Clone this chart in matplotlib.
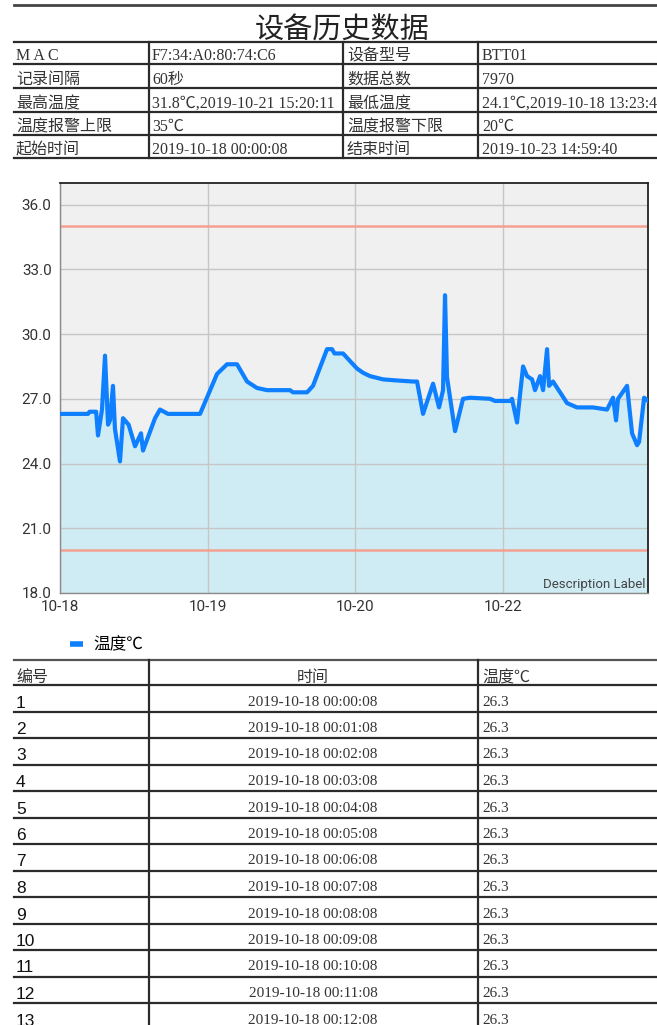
#!/usr/bin/env python3
"""
plot.py

Device history report: info table, temperature chart, first data rows.
"""

import matplotlib
matplotlib.use("Agg")
import matplotlib.pyplot as plt
from matplotlib.lines import Line2D

# ---- data ----
title = "设备历史数据"
info_rows = [
    ["M A C", "F7:34:A0:80:74:C6", "设备型号", "BTT01"],
    ["记录间隔", "60秒", "数据总数", "7970"],
    ["最高温度", "31.8℃,2019-10-21 15:20:11", "最低温度", "24.1℃,2019-10-18 13:23:46"],
    ["温度报警上限", "35℃", "温度报警下限", "20℃"],
    ["起始时间", "2019-10-18 00:00:08", "结束时间", "2019-10-23 14:59:40"],
]

# sample index -> temperature
sample_idx = [0, 380, 400, 490, 515, 569, 610, 651, 678, 718, 745, 813, 854, 930,
              1017, 1098, 1125, 1288, 1355, 1464, 1898, 2128, 2264, 2399, 2535,
              2670, 2806, 3117, 3158, 3348, 3429, 3619, 3687, 3720, 3836, 3930,
              4026, 4110, 4202, 4378, 4560, 4785, 4839, 4920, 5056, 5137, 5191,
              5218, 5245, 5354, 5462, 5557, 5828, 5896, 6099, 6126, 6194, 6276,
              6330, 6398, 6438, 6506, 6547, 6601, 6628, 6682, 6777, 6872, 7007,
              7224, 7414, 7495, 7536, 7563, 7685, 7753, 7821, 7848, 7916, 7969]
temperature = [26.3, 26.3, 26.4, 26.4, 25.3, 26.5, 29.0, 25.8, 26.0, 27.6, 25.6,
               24.1, 26.1, 25.8, 24.8, 25.4, 24.6, 26.1, 26.5, 26.3, 26.3, 28.15,
               28.6, 28.6, 27.8, 27.5, 27.4, 27.4, 27.3, 27.3, 27.6, 29.3, 29.3,
               29.1, 29.1, 28.75, 28.4, 28.2, 28.05, 27.9, 27.85, 27.8, 27.8, 26.3,
               27.7, 26.6, 27.4, 31.8, 28.0, 25.5, 27.0, 27.05, 27.0, 26.9, 26.9,
               27.0, 25.9, 28.5, 28.05, 27.9, 27.4, 28.05, 27.4, 29.3, 27.6, 27.8,
               27.3, 26.8, 26.6, 26.6, 26.5, 27.05, 26.0, 27.0, 27.6, 25.4, 24.85,
               25.0, 27.05, 26.9]
upper_limit = 35
lower_limit = 20
y_ticks = [18, 21, 24, 27, 30, 33, 36]
x_ticks = [0, 2000, 4000, 6000]
x_labels = ["10-18", "10-19", "10-20", "10-22"]
series_name = "温度℃"

table_header = ["编号", "时间", "温度℃"]
row_numbers = ["1", "2", "3", "4", "5", "6", "7", "8", "9", "10", "11", "12", "13"]
row_times = ["2019-10-18 00:00:08", "2019-10-18 00:01:08", "2019-10-18 00:02:08",
             "2019-10-18 00:03:08", "2019-10-18 00:04:08", "2019-10-18 00:05:08",
             "2019-10-18 00:06:08", "2019-10-18 00:07:08", "2019-10-18 00:08:08",
             "2019-10-18 00:09:08", "2019-10-18 00:10:08", "2019-10-18 00:11:08",
             "2019-10-18 00:12:08"]
row_temps = ["26.3"] * 13

W, H = 657, 1025
CJK = ["Noto Sans CJK SC", "DejaVu Sans"]
SERIF = ["Liberation Serif", "Noto Sans CJK SC", "DejaVu Sans"]


def fx(x):
    return x / W


def fy(y):
    return 1 - y / H


def hline(fig, y, x0=14, x1=W, lw=1.6, color="#2b2b2b"):
    fig.add_artist(Line2D([fx(x0), fx(x1)], [fy(y), fy(y)], transform=fig.transFigure,
                          lw=lw, color=color))


def vline(fig, x, y0, y1, lw=1.6, color="#2b2b2b"):
    fig.add_artist(Line2D([fx(x), fx(x)], [fy(y0), fy(y1)], transform=fig.transFigure,
                          lw=lw, color=color))


def main():
    fig = plt.figure(figsize=(W / 100, H / 100), dpi=100)

    # ---- header ----
    hline(fig, 5, lw=2.0, color="#444444")
    fig.text(fx(342), fy(27), title, ha="center", va="center_baseline", fontsize=21,
             family=CJK, color="#222222")

    row_lines = [42, 64, 88, 112, 135, 158]
    for y in row_lines:
        hline(fig, y)
    for x in [149, 343, 478]:
        vline(fig, x, 42, 158)
    col_x = [16, 152, 347, 482]
    for r, row in enumerate(info_rows):
        base = row_lines[r + 1] - 4
        for c, txt in enumerate(row):
            fig.text(fx(col_x[c]), fy(base), txt, ha="left", va="baseline",
                     fontsize=11.5, family=SERIF, color="#333333")

    # ---- chart ----
    ax = fig.add_axes([fx(60), fy(593), fx(648) - fx(60), fy(183) - fy(593)])
    ax.set_facecolor("#f0f0f0")
    ax.fill_between(sample_idx, temperature, 18, color="#cfecf5", zorder=1, lw=0)
    ax.axhline(upper_limit, color="#f4a090", lw=1.8, zorder=2)
    ax.axhline(lower_limit, color="#f4a090", lw=1.8, zorder=2)
    ax.plot(sample_idx, temperature, color="#0d7fff", lw=3.0, zorder=3,
            solid_joinstyle="round", label=series_name)

    ax.set_xlim(0, 7969)
    ax.set_ylim(18, 37)
    ax.set_yticks(y_ticks)
    ax.set_yticklabels([f"{v:.1f}" for v in y_ticks])
    ax.set_xticks(x_ticks)
    ax.set_xticklabels(x_labels)
    ax.tick_params(length=0, labelsize=11, labelcolor="#333333")
    ax.tick_params(axis="y", pad=6)
    ax.tick_params(axis="x", pad=5)
    for lab in ax.get_xticklabels() + ax.get_yticklabels():
        lab.set_family("Roboto")
    ax.set_axisbelow("line")
    ax.grid(True, color="#c6c6c6", lw=1.0)
    for s in ["left", "bottom"]:
        ax.spines[s].set_color("#8a8a8a")
        ax.spines[s].set_linewidth(1.0)
    for s in ["top", "right"]:
        ax.spines[s].set_color("#222222")
        ax.spines[s].set_linewidth(1.3)

    ax.text(0.995, 0.004, "Description Label", transform=ax.transAxes, ha="right",
            va="bottom", fontsize=9.5, family="Roboto", color="#444444")

    handle = Line2D([], [], color="#0d7fff", lw=4, solid_capstyle="butt")
    fig.legend([handle], [series_name], loc="center left",
               bbox_to_anchor=(fx(70), fy(645)), frameon=False, handlelength=0.8,
               handletextpad=0.6, borderaxespad=0, borderpad=0,
               prop={"family": CJK, "size": 12})

    # ---- data table ----
    hline(fig, 660, color="#555555")
    hline(fig, 685)
    row_h = 26.5
    for k in range(1, len(row_numbers) + 1):
        hline(fig, 685 + row_h * k)
    vline(fig, 149, 660, H)
    vline(fig, 478, 660, H)

    fig.text(fx(16), fy(682), table_header[0], ha="left", va="baseline",
             fontsize=11.5, family=SERIF, color="#333333")
    fig.text(fx(313), fy(682), table_header[1], ha="center", va="baseline",
             fontsize=11.5, family=SERIF, color="#333333")
    fig.text(fx(482), fy(682), table_header[2], ha="left", va="baseline",
             fontsize=11.5, family=SERIF, color="#333333")

    for k, (num, t, v) in enumerate(zip(row_numbers, row_times, row_temps)):
        base = 685 + row_h * (k + 1) - 4
        fig.text(fx(16), fy(base), num, ha="left", va="baseline", fontsize=12.5,
                 family="Liberation Sans", color="#111111")
        fig.text(fx(313), fy(base - 2), t, ha="center", va="baseline", fontsize=11,
                 family=SERIF, color="#333333")
        fig.text(fx(482), fy(base - 2), v, ha="left", va="baseline", fontsize=11,
                 family=SERIF, color="#333333")

    fig.savefig("out.png", dpi=100, facecolor="white")


if __name__ == "__main__":
    main()
